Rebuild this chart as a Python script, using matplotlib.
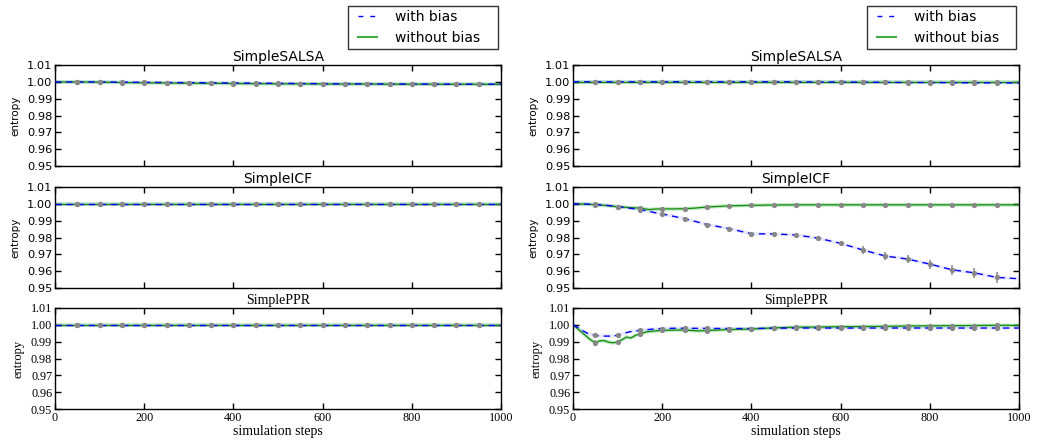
"""Entropy over simulation steps, with and without bias, for three ranking algorithms."""

import matplotlib

matplotlib.use("Agg")
import matplotlib.pyplot as plt
from matplotlib.lines import Line2D
from matplotlib.patches import Rectangle

# ---- data -----------------------------------------------------------------
marker_steps = [50, 100, 150, 200, 250, 300, 350, 400, 450, 500,
                550, 600, 650, 700, 750, 800, 850, 900, 950]

steps_coarse = [0, 50, 100, 150, 200, 250, 300, 350, 400, 450, 500,
                550, 600, 650, 700, 750, 800, 850, 900, 950, 1000]

# left column
salsa_l_bias = [0.9999, 0.9999, 0.9999, 0.9998, 0.9997, 0.9996, 0.9995, 0.9994,
                0.9993, 0.9992, 0.9991, 0.9990, 0.9989, 0.9988, 0.9988, 0.9987,
                0.9987, 0.9986, 0.9986, 0.9986, 0.9986]
salsa_l_nobias = [0.9999, 0.9999, 0.9998, 0.9996, 0.9994, 0.9993, 0.9992, 0.9991,
                  0.9990, 0.9989, 0.9988, 0.9988, 0.9987, 0.9987, 0.9987, 0.9986,
                  0.9986, 0.9986, 0.9986, 0.9986, 0.9985]
icf_l_bias = [0.9998] * 21
icf_l_nobias = [0.9998] * 21
ppr_l_bias = [0.9997] * 21
ppr_l_nobias = [0.9997] * 21
flat_err = [0.0001] * 19

# right column
salsa_r_bias = [1.0000, 1.0000, 1.0000, 1.0000, 1.0000, 1.0000, 1.0000, 1.0000,
                1.0000, 1.0000, 1.0000, 0.9999, 0.9999, 0.9998, 0.9997, 0.9996,
                0.9996, 0.9995, 0.9994, 0.9994, 0.9993]
salsa_r_nobias = [1.0000] * 21

icf_r_steps = [0, 25, 50, 75, 100, 125, 150, 170, 185, 200, 225, 250, 275, 300,
               350, 400, 450, 500, 550, 600, 650, 700, 750, 800, 850, 900, 950, 1000]
icf_r_bias = [1.0000, 0.9999, 0.9997, 0.9991, 0.9984, 0.9975, 0.9966, 0.9955,
              0.9947, 0.9940, 0.9926, 0.9912, 0.9895, 0.9877, 0.9853, 0.9822,
              0.9821, 0.9815, 0.9796, 0.9765, 0.9726, 0.9690, 0.9672, 0.9642,
              0.9608, 0.9590, 0.9563, 0.9555]
icf_r_nobias = [1.0000, 0.9998, 0.9995, 0.9990, 0.9983, 0.9978, 0.9975, 0.9966,
                0.9969, 0.9970, 0.9970, 0.9971, 0.9975, 0.9981, 0.9988, 0.9991,
                0.9993, 0.9994, 0.9994, 0.9994, 0.9994, 0.9994, 0.9994, 0.9994,
                0.9994, 0.9994, 0.9994, 0.9994]
icf_r_bias_err = [0.0002, 0.0004, 0.0006, 0.0006, 0.0007, 0.0009, 0.0010, 0.0013,
                  0.0011, 0.0012, 0.0013, 0.0016, 0.0022, 0.0025, 0.0026, 0.0027,
                  0.0030, 0.0031, 0.0033]
icf_r_nobias_err = [0.0002, 0.0003, 0.0004, 0.0004, 0.0004, 0.0003, 0.0002, 0.0002,
                    0.0002, 0.0002, 0.0002, 0.0002, 0.0002, 0.0002, 0.0002, 0.0002,
                    0.0002, 0.0002, 0.0002]

ppr_r_steps = [0, 10, 20, 30, 40, 50, 60, 70, 80, 90, 100, 110, 120, 130, 140, 150,
               165, 180, 200, 230, 250, 280, 300, 350, 400, 450, 500, 550, 600,
               650, 700, 750, 800, 850, 900, 950, 1000]
ppr_r_bias = [1.0000, 0.9985, 0.9968, 0.9953, 0.9942, 0.9937, 0.9934, 0.9933,
              0.9933, 0.9935, 0.9937, 0.9945, 0.9954, 0.9960, 0.9964, 0.9967,
              0.9971, 0.9975, 0.9978, 0.9980, 0.9980, 0.9979, 0.9979, 0.9978,
              0.9978, 0.9980, 0.9981, 0.9981, 0.9981, 0.9981, 0.9981, 0.9981,
              0.9981, 0.9981, 0.9981, 0.9981, 0.9981]
ppr_r_nobias = [1.0000, 0.9978, 0.9955, 0.9932, 0.9910, 0.9893, 0.9905, 0.9906,
                0.9897, 0.9893, 0.9898, 0.9912, 0.9927, 0.9922, 0.9937, 0.9947,
                0.9958, 0.9963, 0.9967, 0.9969, 0.9969, 0.9964, 0.9966, 0.9972,
                0.9975, 0.9982, 0.9986, 0.9987, 0.9989, 0.9990, 0.9991, 0.9993,
                0.9994, 0.9995, 0.9996, 0.9997, 0.9997]
ppr_r_bias_err = [0.0012, 0.0013, 0.0008, 0.0005, 0.0003, 0.0003, 0.0003, 0.0003,
                  0.0003, 0.0003, 0.0003, 0.0003, 0.0003, 0.0003, 0.0003, 0.0003,
                  0.0003, 0.0003, 0.0003]
ppr_r_nobias_err = [0.0018, 0.0012, 0.0009, 0.0006, 0.0004, 0.0004, 0.0004, 0.0004,
                    0.0004, 0.0004, 0.0004, 0.0004, 0.0004, 0.0004, 0.0004, 0.0004,
                    0.0004, 0.0004, 0.0004]

titles = ["SimpleSALSA", "SimpleICF", "SimplePPR"]
legend_labels = ["with bias", "without bias"]

# ---- styling ---------------------------------------------------------------
BLUE = "#0000ff"
GREEN = "#108a10"
GREEN_BAND = "#80d080"
GREY = "#888888"
SANS = "DejaVu Sans"
SERIF = "Liberation Serif"
W, H = 1039.0, 446.0


def _draw_panel(ax, steps, bias, nobias, bias_err, nobias_err):
    ax.plot(steps, nobias, color=GREEN_BAND, linewidth=2.6, alpha=0.5, zorder=1)
    ax.plot(steps, nobias, color=GREEN, linewidth=0.9, zorder=2)
    ax.plot(steps, bias, color="#8080ff", linewidth=2.4, alpha=0.18, zorder=1)
    ax.plot(steps, bias, color=BLUE, linewidth=1.0, dashes=(4.5, 3.5), zorder=3)

    idx = [i for i, s in enumerate(steps) if s in marker_steps]
    mx = [steps[i] for i in idx]
    for values, errs in ((bias, bias_err), (nobias, nobias_err)):
        ax.errorbar(mx, [values[i] for i in idx], yerr=errs, fmt="o", color=GREY,
                    ecolor=GREY, markersize=3.8, markeredgewidth=0, elinewidth=1.1,
                    capsize=2.6, capthick=1.1, zorder=4)


def _style_axis(ax, title, family, show_x):
    ax.set_xlim(0, 1000)
    ax.set_ylim(0.95, 1.01)
    ax.set_xticks([0, 200, 400, 600, 800, 1000])
    ax.set_yticks([0.95, 0.96, 0.97, 0.98, 0.99, 1.00, 1.01])
    serif = family == SERIF
    ax.tick_params(direction="in", top=True, right=True, length=4, width=1,
                   labelsize=8.7 if serif else 8.2, pad=2)
    for label in ax.get_xticklabels() + ax.get_yticklabels():
        label.set_family(family)
    ax.yaxis.set_major_formatter(plt.FormatStrFormatter("%.2f"))
    if not show_x:
        ax.tick_params(labelbottom=False)
    else:
        ax.set_xlabel("simulation steps", family=family, fontsize=10, labelpad=1)
    ax.set_ylabel("entropy", family=family, fontsize=9 if serif else 7.5, labelpad=5)
    ax.set_title(title, family=family, fontsize=10, pad=3)
    for spine in ax.spines.values():
        spine.set_linewidth(1.0)


def _legend(fig, box_left, box_right):
    handles = [
        Line2D([], [], color=BLUE, linewidth=1.0, dashes=(3.5, 5)),
        Line2D([], [], color="#44aa44", linewidth=1.5),
    ]
    fig.legend(handles, legend_labels, loc="upper left",
               bbox_to_anchor=((box_left + 10) / W, 1 - 10 / H),
               bbox_transform=fig.transFigure, fontsize=10, frameon=False,
               handlelength=1.4, handletextpad=1.25, borderpad=0,
               labelspacing=0.5, borderaxespad=0)
    fig.add_artist(Rectangle((box_left / W, 1 - 49 / H), (box_right - box_left) / W,
                             43 / H, transform=fig.transFigure, fill=False,
                             edgecolor="#333333", linewidth=1.0))


fig = plt.figure(figsize=(10.39, 4.46), dpi=100)

col_x = [55, 573]
row_top = [65, 187, 308]
ax_w, ax_h = 446, 101

panels = [
    [
        (steps_coarse, salsa_l_bias, salsa_l_nobias, flat_err, flat_err),
        (steps_coarse, icf_l_bias, icf_l_nobias, flat_err, flat_err),
        (steps_coarse, ppr_l_bias, ppr_l_nobias, flat_err, flat_err),
    ],
    [
        (steps_coarse, salsa_r_bias, salsa_r_nobias, flat_err, flat_err),
        (icf_r_steps, icf_r_bias, icf_r_nobias, icf_r_bias_err, icf_r_nobias_err),
        (ppr_r_steps, ppr_r_bias, ppr_r_nobias, ppr_r_bias_err, ppr_r_nobias_err),
    ],
]
legend_boxes = [(348, 498), (867, 1016)]

for col in range(2):
    for row in range(3):
        rect = [col_x[col] / W, 1 - (row_top[row] + ax_h) / H, ax_w / W, ax_h / H]
        ax = fig.add_axes(rect)
        _draw_panel(ax, *panels[col][row])
        family = SERIF if row == 2 else SANS
        _style_axis(ax, titles[row], family, show_x=(row == 2))
    _legend(fig, *legend_boxes[col])

fig.savefig("out.png", dpi=100)
